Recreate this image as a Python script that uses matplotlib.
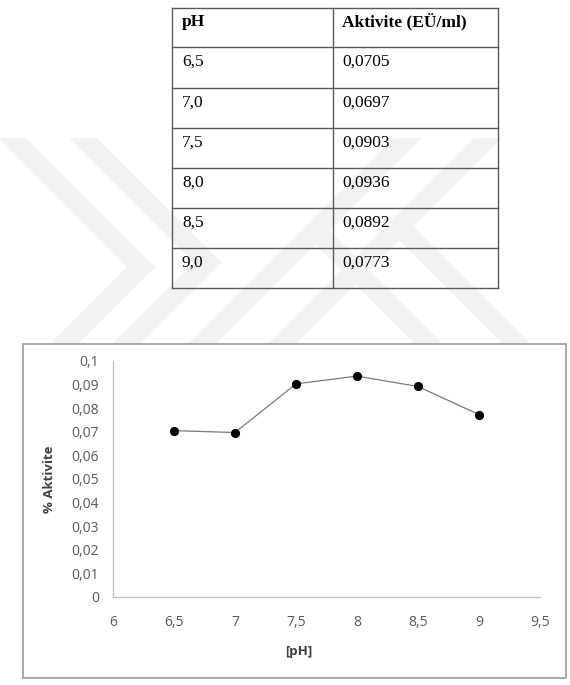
import matplotlib
matplotlib.use("Agg")
import matplotlib.pyplot as plt
from matplotlib.lines import Line2D
from matplotlib.patches import Rectangle, Polygon

# ---- data ----
ph_values = [6.5, 7.0, 7.5, 8.0, 8.5, 9.0]
activity = [0.0705, 0.0697, 0.0903, 0.0936, 0.0892, 0.0773]
table_headers = ["pH", "Aktivite (EÜ/ml)"]
x_ticks = [6, 6.5, 7, 7.5, 8, 8.5, 9, 9.5]
y_ticks = [0, 0.01, 0.02, 0.03, 0.04, 0.05, 0.06, 0.07, 0.08, 0.09, 0.1]
x_label = "[pH]"
y_label = "% Aktivite"

W, H = 570, 685
fig = plt.figure(figsize=(W / 100, H / 100), dpi=100)
fig.patch.set_facecolor("white")


def fx(x):
    return x / W


def fy(y):
    return 1 - y / H


def comma(v, nd):
    return f"{v:.{nd}f}".replace(".", ",")


def gfmt(v):
    return f"{v:g}".replace(".", ",")


# ---- faint watermark (background decoration) ----
wm_color = "#f2f2f2"
hw = 14          # half horizontal band width (px)
y_top, y_bot = 138, 346


def add_poly(pts):
    fig.add_artist(Polygon([(fx(x), fy(y)) for x, y in pts], closed=True,
                           transform=fig.transFigure, facecolor=wm_color,
                           edgecolor="none", zorder=0))


def chevron_right(d, c):
    # ">" : upper arm x - y = d, lower arm x + y = c
    yt = (c - d) / 2.0
    xt = (c + d) / 2.0
    add_poly([(y_top + d - hw, y_top), (y_top + d + hw, y_top), (xt + hw, yt),
              (c - y_bot + hw, y_bot), (c - y_bot - hw, y_bot), (xt - hw, yt)])


def slash_band(c, y0, y1):
    add_poly([(c - y0 - hw, y0), (c - y0 + hw, y0), (c - y1 + hw, y1), (c - y1 - hw, y1)])


def backslash_band(d, y0, y1):
    add_poly([(y0 + d - hw, y0), (y0 + d + hw, y0), (y1 + d + hw, y1), (y1 + d - hw, y1)])


chevron_right(-126, 408)
chevron_right(-55, 470)
slash_band(546, y_top, y_bot)
slash_band(626, y_top, y_bot)
backslash_band(85, (546 - 85) / 2.0, y_bot)
backslash_band(173, (626 - 173) / 2.0, y_bot)

# ---- table ----
tbl_color = "#5a5a5a"
col_x = [172, 333, 498]
row_y = [8, 47, 88, 128, 168, 208, 248, 288]
for y in row_y:
    fig.add_artist(Line2D([fx(col_x[0]), fx(col_x[-1])], [fy(y), fy(y)],
                          transform=fig.transFigure, color=tbl_color, lw=1.0, zorder=2))
for x in col_x:
    fig.add_artist(Line2D([fx(x), fx(x)], [fy(row_y[0]), fy(row_y[-1])],
                          transform=fig.transFigure, color=tbl_color, lw=1.0, zorder=2))

serif = "Liberation Serif"
tfs = 12.5
base = 18.5
fig.text(fx(182), fy(row_y[0] + base), table_headers[0], ha="left", va="baseline",
         fontfamily=serif, fontweight="bold", fontsize=tfs, color="black", zorder=3)
fig.text(fx(342), fy(row_y[0] + base), table_headers[1], ha="left", va="baseline",
         fontfamily=serif, fontweight="bold", fontsize=tfs, color="black", zorder=3)
for i, (p, a) in enumerate(zip(ph_values, activity)):
    top = row_y[i + 1]
    fig.text(fx(182), fy(top + base), comma(p, 1), ha="left", va="baseline",
             fontfamily=serif, fontsize=tfs, color="black", zorder=3)
    fig.text(fx(342), fy(top + base), comma(a, 4), ha="left", va="baseline",
             fontfamily=serif, fontsize=tfs, color="black", zorder=3)

# ---- chart box ----
fig.add_artist(Rectangle((fx(23), fy(678)), fx(566) - fx(23), fy(344) - fy(678),
                         transform=fig.transFigure, facecolor="white",
                         edgecolor="#a3a3a3", lw=1.3, zorder=1))

# ---- axes ----
ax_l, ax_r, ax_b, ax_t = 113, 540, 597, 361
ax = fig.add_axes([fx(ax_l), fy(ax_b), fx(ax_r) - fx(ax_l), fy(ax_t) - fy(ax_b)])
ax.set_zorder(5)
ax.patch.set_alpha(0)

ax.plot(ph_values, activity, color="#7a7a7a", lw=0.9, marker="o",
        markersize=5.6, markerfacecolor="black", markeredgecolor="black")

ax.set_xlim(6, 9.5)
ax.set_ylim(0, 0.1)
ax.set_xticks(x_ticks)
ax.set_yticks(y_ticks)
ax.set_xticklabels([gfmt(v) for v in x_ticks])
ax.set_yticklabels([gfmt(v) for v in y_ticks])

sans = "Open Sans"
for lab in ax.get_xticklabels() + ax.get_yticklabels():
    lab.set_fontfamily(sans)
    lab.set_fontsize(10)
    lab.set_color("#595959")
ax.tick_params(axis="both", length=0)
ax.tick_params(axis="x", pad=13)
ax.tick_params(axis="y", pad=10)

for s in ["top", "right"]:
    ax.spines[s].set_visible(False)
for s in ["left", "bottom"]:
    ax.spines[s].set_color("#bdbdbd")
    ax.spines[s].set_linewidth(0.9)

ax.set_xlabel(x_label, fontfamily=sans, fontweight="bold", fontsize=9.5, color="#404040")
ax.set_ylabel(y_label, fontfamily=sans, fontweight="bold", fontsize=9.5, color="#404040")
ax.xaxis.set_label_coords((299 - ax_l) / (ax_r - ax_l), -(652 - ax_b) / (ax_b - ax_t))
ax.yaxis.set_label_coords(-(ax_l - 49) / (ax_r - ax_l), (ax_b - 479) / (ax_b - ax_t))
ax.xaxis.label.set_va("center")
ax.yaxis.label.set_va("center")

fig.savefig("out.png", dpi=100)
